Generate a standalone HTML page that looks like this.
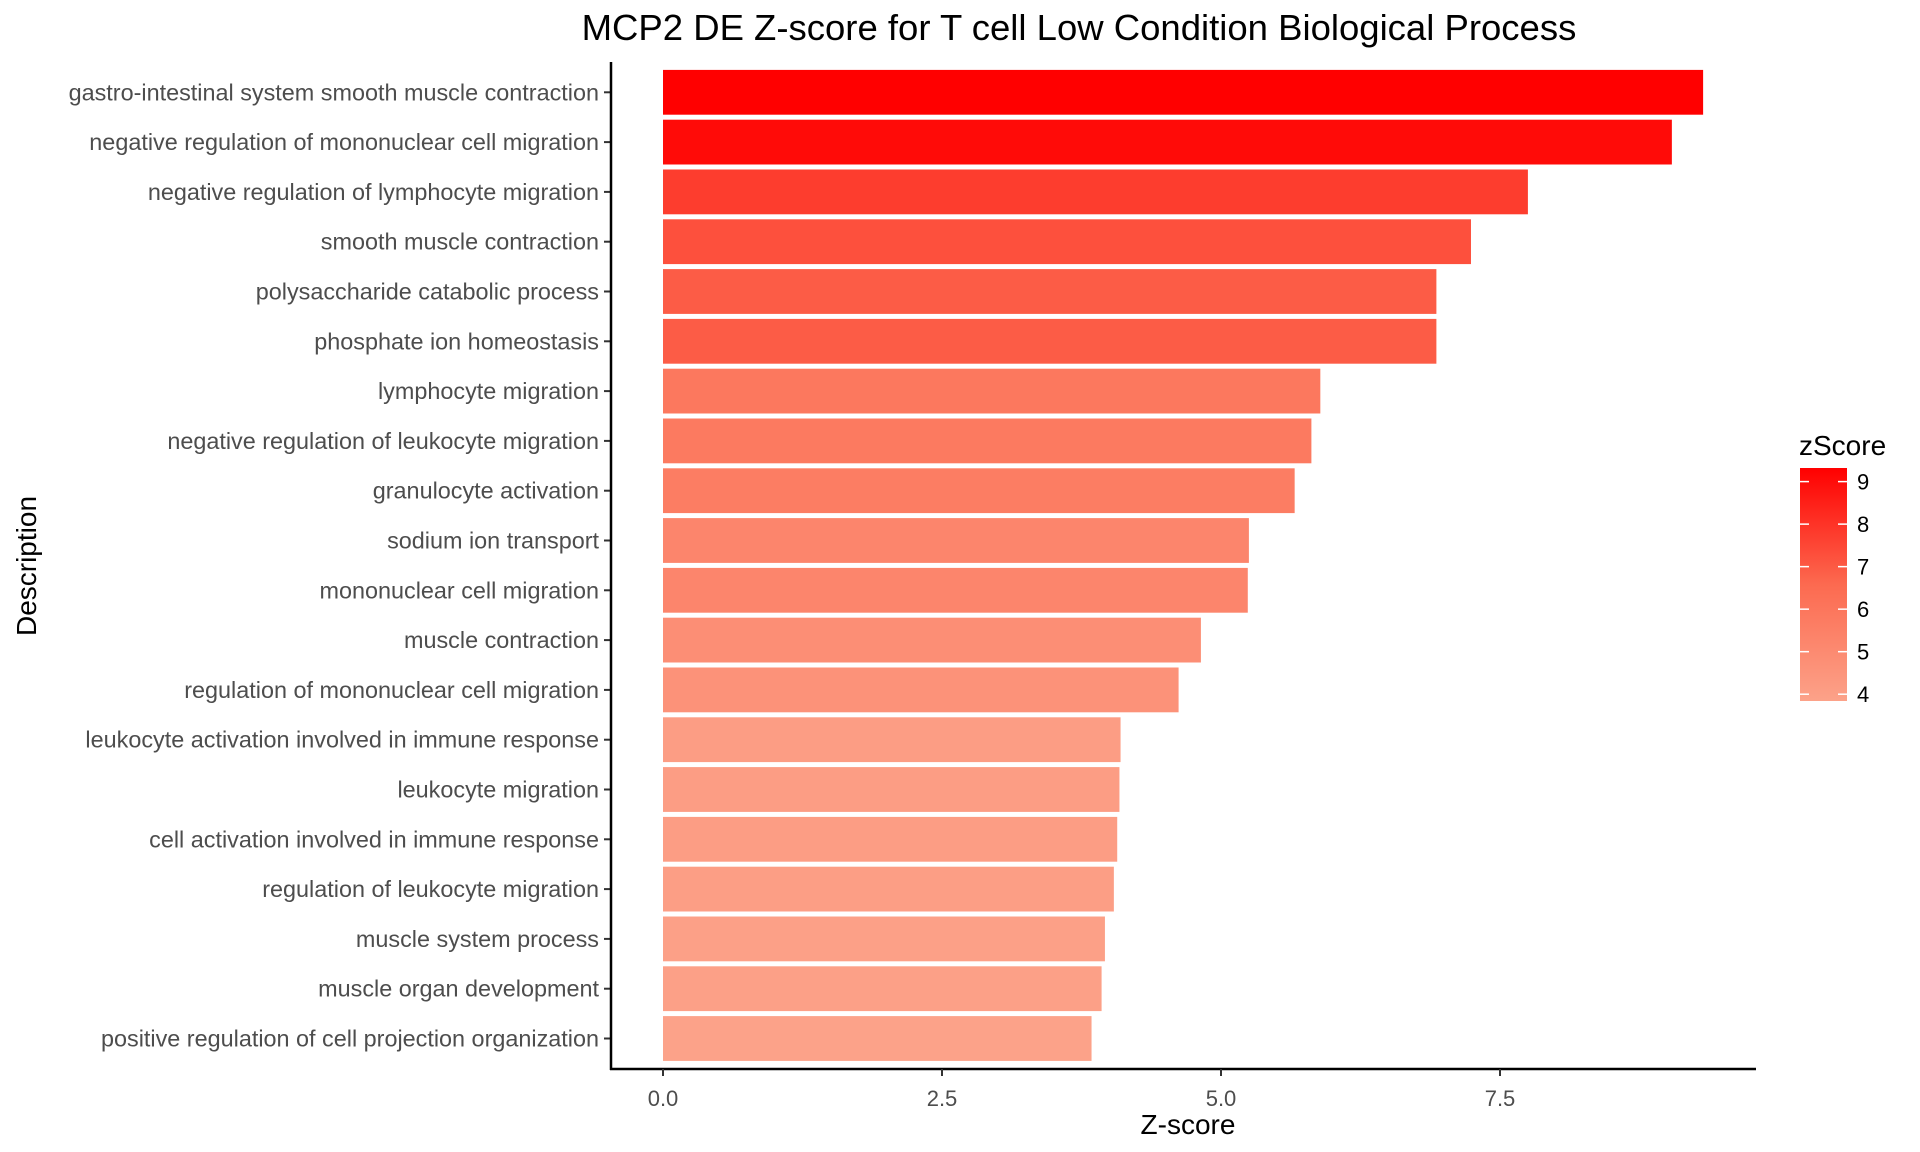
<!DOCTYPE html>
<html><head><meta charset="utf-8"><style>
html,body{margin:0;padding:0;background:#fff;}
svg{display:block;font-family:"Liberation Sans",Arial,sans-serif;}
</style></head><body>
<svg id="chart" width="1920" height="1152" viewBox="0 0 1920 1152" xmlns="http://www.w3.org/2000/svg">
<text x="1079" y="40" font-size="36.5" text-anchor="middle" fill="#000">MCP2 DE Z-score for T cell Low Condition Biological Process</text>
<g id="bars"></g>
<g id="yaxis"></g>
<g id="xaxis"></g>
<text x="1188" y="1134" font-size="28" text-anchor="middle" fill="#000">Z-score</text>
<text transform="translate(36,566) rotate(-90)" font-size="28" text-anchor="middle" fill="#000">Description</text>
<g id="legend">
<defs><linearGradient id="lg" x1="0" y1="1" x2="0" y2="0">
<stop offset="0" stop-color="#fca289"/><stop offset="0.5" stop-color="#fc6a50"/><stop offset="1" stop-color="#ff0000"/></linearGradient></defs>
<text x="1799" y="455" font-size="28" fill="#000">zScore</text>
<rect x="1800" y="468" width="47" height="233" fill="url(#lg)"/>
</g>
</svg>
<script>
const categories = ["gastro-intestinal system smooth muscle contraction","negative regulation of mononuclear cell migration","negative regulation of lymphocyte migration","smooth muscle contraction","polysaccharide catabolic process","phosphate ion homeostasis","lymphocyte migration","negative regulation of leukocyte migration","granulocyte activation","sodium ion transport","mononuclear cell migration","muscle contraction","regulation of mononuclear cell migration","leukocyte activation involved in immune response","leukocyte migration","cell activation involved in immune response","regulation of leukocyte migration","muscle system process","muscle organ development","positive regulation of cell projection organization"];
const values = [9.32,9.04,7.75,7.24,6.93,6.93,5.89,5.81,5.66,5.25,5.24,4.82,4.62,4.10,4.09,4.07,4.04,3.96,3.93,3.84];
const xTicks = [0,2.5,5,7.5];
const xTickLabels = ["0.0","2.5","5.0","7.5"];
const legendTicks = [4,5,6,7,8,9];

const NS="http://www.w3.org/2000/svg";
const x0=663, pxPerUnit=111.6;
const xs=v=>x0+v*pxPerUnit;
const yTop=92.3, pitch=49.8;
const ys=i=>yTop+i*pitch;
const vmin=Math.min(...values), vmax=Math.max(...values);
const lo=[252,162,137], mid=[252,106,80], hi=[255,0,0];
function col(v){let t=(v-vmin)/(vmax-vmin);let a,b,u;if(t<0.5){a=lo;b=mid;u=t/0.5;}else{a=mid;b=hi;u=(t-0.5)/0.5;}
return "rgb("+a.map((c,k)=>Math.round(c+(b[k]-c)*u)).join(",")+")";}
function mk(tag,attrs,parent){const e=document.createElementNS(NS,tag);for(const k in attrs)e.setAttribute(k,attrs[k]);parent.appendChild(e);return e;}
const gb=document.getElementById('bars'), gy=document.getElementById('yaxis'), gx=document.getElementById('xaxis'), gl=document.getElementById('legend');
const axisBottom=1069, axisLeft=611;
categories.forEach((c,i)=>{
  const r=mk('rect',{x:xs(0),y:ys(i)-22.4,width:xs(values[i])-xs(0),height:44.8,fill:col(values[i])},gb);
  
  
  const t=mk('text',{x:599,y:ys(i)+8,'font-size':23.4,'text-anchor':'end',fill:'#4d4d4d'},gy);
  t.textContent=c;
  
  
  const tk=mk('line',{x1:604,x2:axisLeft,y1:ys(i),y2:ys(i),stroke:'#333','stroke-width':2},gy);
  
  
});
const yl=mk('line',{x1:axisLeft,x2:axisLeft,y1:62,y2:axisBottom+1,stroke:'#000','stroke-width':2.5},gy);


const xl=mk('line',{x1:axisLeft-1,x2:1756,y1:axisBottom,y2:axisBottom,stroke:'#000','stroke-width':2.5},gx);


xTicks.forEach((v,i)=>{
  const tk=mk('line',{x1:xs(v),x2:xs(v),y1:axisBottom,y2:axisBottom+7,stroke:'#333','stroke-width':2},gx);
  
  
  const t=mk('text',{x:xs(v),y:1106,'font-size':22,'text-anchor':'middle',fill:'#4d4d4d'},gx);
  t.textContent=xTickLabels[i];
  
  
});
const ly=v=>701-(v-vmin)/(vmax-vmin)*233;
legendTicks.forEach(v=>{
  const a=mk('line',{x1:1800,x2:1809,y1:ly(v),y2:ly(v),stroke:'#fff','stroke-width':1.5},gl);
  
  
  const b=mk('line',{x1:1838,x2:1847,y1:ly(v),y2:ly(v),stroke:'#fff','stroke-width':1.5},gl);
  
  
  const t=mk('text',{x:1857,y:ly(v)+8,'font-size':22,fill:'#000'},gl);
  t.textContent=String(v);
  
  
});
</script>
</body></html>
